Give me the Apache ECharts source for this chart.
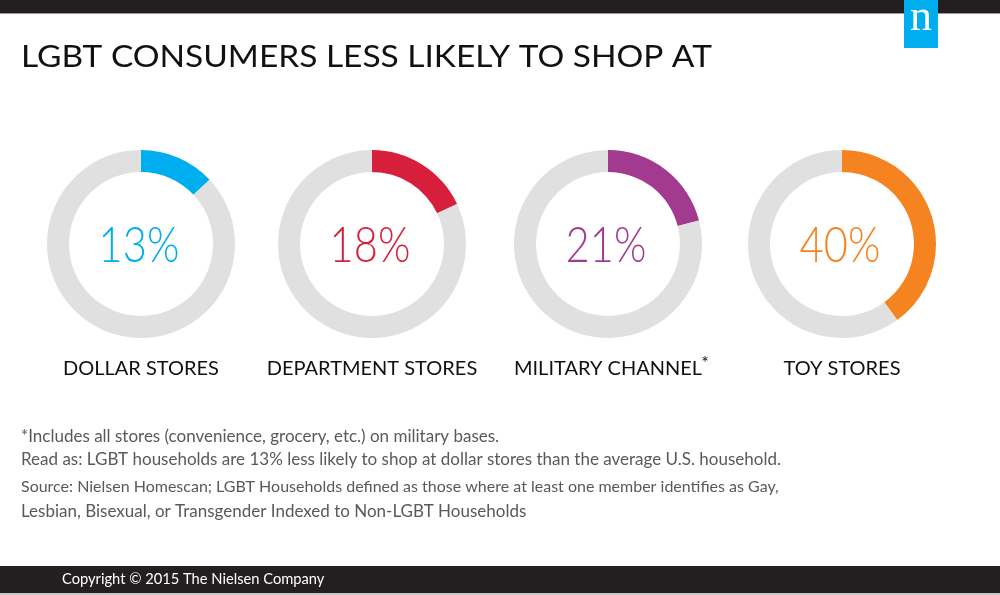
<!DOCTYPE html>
<html><head><meta charset="utf-8">
<script src="https://cdn.jsdelivr.net/npm/echarts@6/dist/echarts.min.js"></script>
<style>html,body{margin:0;padding:0;background:#fff}#c{width:1000px;height:595px}</style>
</head><body><div id="c"></div>
<script>
const title = "LGBT CONSUMERS LESS LIKELY TO SHOP AT";
const categories = ["DOLLAR STORES", "DEPARTMENT STORES", "MILITARY CHANNEL", "TOY STORES"];
const values = [13, 18, 21, 40];
const footnotes = [
  "*Includes all stores (convenience, grocery, etc.) on military bases.",
  "Read as: LGBT households are 13% less likely to shop at dollar stores than the average U.S. household.",
  "Source: Nielsen Homescan; LGBT Households defined as those where at least one member identifies as Gay,",
  "Lesbian, Bisexual, or Transgender Indexed to Non-LGBT Households"
];
const copyright = "Copyright \u00A9 2015 The Nielsen Company";

const COLORS = ["#00aeef", "#d71f3c", "#a23a8f", "#f58420"];
const TRACK = "#e0e0e0";
const CX = [141, 372, 608, 842];
const CY = 244;

const chart = echarts.init(document.getElementById('c'), null, {renderer: 'canvas'});

const series = values.map((v, i) => ({
  type: 'pie',
  center: [CX[i], CY],
  radius: [72, 94],
  startAngle: 90,
  clockwise: true,
  silent: true,
  animation: false,
  label: {show: false},
  labelLine: {show: false},
  emphasis: {disabled: true},
  data: [
    {value: v, itemStyle: {color: COLORS[i]}},
    {value: 100 - v, itemStyle: {color: TRACK}}
  ]
}));

const graphics = [
  {type: 'rect', shape: {x: 0, y: 0, width: 1000, height: 13}, style: {fill: '#231f20'}},
  {type: 'rect', shape: {x: 0, y: 13, width: 1000, height: 1}, style: {fill: '#9a9a9a'}},
  {type: 'rect', shape: {x: 904, y: 0, width: 34, height: 48}, style: {fill: '#00aeef'}, z: 10},
  {type: 'text', x: 921, y: 40, z: 11, style: {text: 'n', fill: '#fff', font: '44px "Liberation Serif", "DejaVu Serif", serif', textAlign: 'center', textVerticalAlign: 'bottom'}},
  {type: 'text', x: 21, y: 57, scaleX: 1.115, style: {text: title, fill: '#111', font: '400 30px Lato, "Open Sans", sans-serif', textAlign: 'left', textVerticalAlign: 'middle'}},
  {type: 'rect', shape: {x: 0, y: 566, width: 1000, height: 27}, style: {fill: '#231f20'}},
  {type: 'rect', shape: {x: 0, y: 593, width: 1000, height: 2}, style: {fill: '#c8c8c8'}},
  {type: 'text', x: 62, y: 579, style: {text: copyright, fill: '#fff', font: '14.7px Lato, "Open Sans", sans-serif', textAlign: 'left', textVerticalAlign: 'middle'}}
];

values.forEach((v, i) => {
  graphics.push({type: 'text', x: CX[i] - 2, y: CY + 2, scaleX: 0.85, z: 5, style: {text: v + '%', fill: COLORS[i], font: '300 49px Lato, "Open Sans", sans-serif', textAlign: 'center', textVerticalAlign: 'middle'}});
  graphics.push({type: 'text', x: CX[i], y: 369, style: {text: categories[i], fill: '#111', font: '20px Lato, "Open Sans", sans-serif', textAlign: 'center', textVerticalAlign: 'middle'}});
});
// asterisk on military channel
graphics.push({type: 'text', x: 705, y: 363, style: {text: '*', fill: '#111', font: '18px Lato, sans-serif', textAlign: 'center', textVerticalAlign: 'middle'}});

const fy = [437, 460, 487, 512];
const fs = [17, 17, 16, 17];
footnotes.forEach((t, i) => {
  graphics.push({type: 'text', x: 21, y: fy[i], style: {text: t, fill: '#58595b', font: fs[i] + 'px Lato, "Open Sans", sans-serif', textAlign: 'left', textVerticalAlign: 'middle'}});
});

chart.setOption({
  animation: false,
  backgroundColor: '#fff',
  series: series,
  graphic: {elements: graphics}
});
</script></body></html>
